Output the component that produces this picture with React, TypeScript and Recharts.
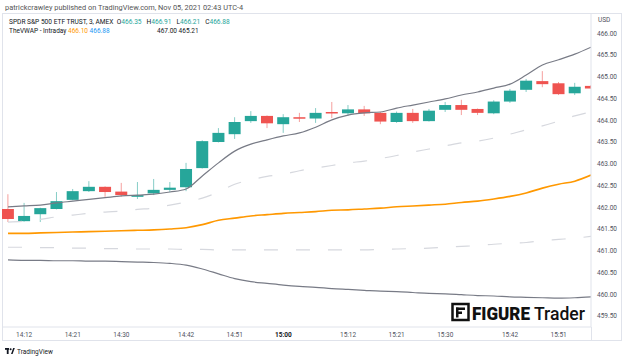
import React from 'react';
import { ComposedChart, Bar, Line, XAxis, YAxis } from 'recharts';

// 3-minute bars, SPY, Nov 05 2021
const times = [
  '14:09', '14:12', '14:15', '14:18', '14:21', '14:24', '14:27', '14:30', '14:33', '14:36',
  '14:39', '14:42', '14:45', '14:48', '14:51', '14:54', '14:57', '15:00', '15:03', '15:06',
  '15:09', '15:12', '15:15', '15:18', '15:21', '15:24', '15:27', '15:30', '15:33', '15:36',
  '15:39', '15:42', '15:45', '15:48', '15:51', '15:54', '15:57',
];
const opens = [
  461.96, 461.68, 461.84, 461.96, 462.17, 462.37, 462.47, 462.36, 462.24, 462.32,
  462.40, 462.46, 462.90, 463.50, 463.68, 463.98, 464.10, 463.91, 464.07, 464.04,
  464.19, 464.16, 464.25, 464.17, 463.96, 464.17, 463.98, 464.24, 464.35, 464.26,
  464.16, 464.43, 464.70, 464.90, 464.85, 464.62, 464.79,
];
const highs = [
  462.30, 462.10, 461.99, 462.35, 462.42, 462.60, 462.48, 462.56, 462.58, 462.65,
  462.58, 463.02, 463.54, 463.82, 464.07, 464.21, 464.11, 464.14, 464.17, 464.28,
  464.42, 464.35, 464.33, 464.19, 464.20, 464.26, 464.26, 464.42, 464.47, 464.27,
  464.46, 464.72, 464.95, 465.13, 464.88, 464.86, 464.81,
];
const lows = [
  461.66, 461.67, 461.66, 461.95, 462.16, 462.35, 462.24, 462.24, 462.19, 462.28,
  462.35, 462.37, 462.89, 463.49, 463.57, 463.94, 463.82, 463.71, 463.96, 463.94,
  464.05, 464.10, 464.10, 463.91, 463.94, 463.94, 463.97, 464.19, 464.12, 464.12,
  464.14, 464.40, 464.65, 464.76, 464.58, 464.58, 464.73,
];
const closes = [
  461.73, 461.80, 461.98, 462.14, 462.37, 462.47, 462.35, 462.28, 462.28, 462.40,
  462.45, 462.88, 463.52, 463.71, 463.96, 464.10, 463.93, 464.07, 464.04, 464.17,
  464.16, 464.25, 464.16, 463.97, 464.17, 463.98, 464.22, 464.35, 464.24, 464.17,
  464.43, 464.68, 464.91, 464.83, 464.60, 464.77, 464.73,
];

// TheVWAP - Intraday and its bands
const vwap = [
  461.40, 461.40, 461.41, 461.42, 461.43, 461.44, 461.45, 461.46, 461.47, 461.48,
  461.50, 461.53, 461.60, 461.70, 461.75, 461.80, 461.83, 461.86, 461.88, 461.90,
  461.93, 461.94, 461.96, 461.98, 462.01, 462.03, 462.05, 462.07, 462.11, 462.14,
  462.19, 462.25, 462.33, 462.44, 462.53, 462.60, 462.74,
];
const upperBand = [
  462.01, 462.03, 462.05, 462.10, 462.14, 462.18, 462.22, 462.26, 462.28, 462.30,
  462.35, 462.42, 462.72, 463.02, 463.29, 463.45, 463.55, 463.64, 463.71, 463.84,
  464.01, 464.12, 464.17, 464.19, 464.28, 464.35, 464.42, 464.49, 464.58, 464.65,
  464.74, 464.83, 465.04, 465.27, 465.39, 465.52, 465.68,
];
const upperMid = [
  461.66, 461.68, 461.72, 461.78, 461.82, 461.86, 461.89, 461.91, 461.95, 461.98,
  462.05, 462.12, 462.21, 462.35, 462.53, 462.63, 462.71, 462.76, 462.84, 462.90,
  462.96, 463.02, 463.06, 463.12, 463.19, 463.27, 463.34, 463.41, 463.48, 463.52,
  463.59, 463.68, 463.78, 463.87, 463.98, 464.10, 464.19,
];
const lowerMid = [
  461.08, 461.08, 461.07, 461.07, 461.06, 461.06, 461.05, 461.05, 461.04, 461.04,
  461.04, 461.03, 461.03, 461.02, 461.02, 461.02, 461.02, 461.02, 461.02, 461.02,
  461.02, 461.02, 461.02, 461.03, 461.04, 461.05, 461.06, 461.08, 461.10, 461.12,
  461.15, 461.17, 461.19, 461.23, 461.26, 461.29, 461.33,
];
const lowerBand = [
  460.79, 460.78, 460.78, 460.77, 460.77, 460.76, 460.76, 460.75, 460.74, 460.73,
  460.71, 460.67, 460.58, 460.47, 460.36, 460.29, 460.25, 460.21, 460.18, 460.16,
  460.13, 460.11, 460.09, 460.07, 460.06, 460.04, 460.02, 460.01, 459.99, 459.97,
  459.96, 459.94, 459.93, 459.92, 459.91, 459.92, 459.94,
];

const timeTicks = ['14:12', '14:21', '14:30', '14:42', '14:51', '15:00', '15:12', '15:21', '15:30', '15:42', '15:51'];
const priceTicks = [459.5, 460, 460.5, 461, 461.5, 462, 462.5, 463, 463.5, 464, 464.5, 465, 465.5, 466];

const UP = '#26a69a';
const DOWN = '#ef5350';
const FONT = 'Roboto, "Liberation Sans", sans-serif';

const data = times.map((t, i) => ({
  i,
  t,
  open: opens[i],
  high: highs[i],
  low: lows[i],
  close: closes[i],
  range: [lows[i], highs[i]],
  vwap: vwap[i],
  ub: upperBand[i],
  um: upperMid[i],
  lm: lowerMid[i],
  lb: lowerBand[i],
}));

const Candle = (props: any) => {
  const { x, y, width, height, payload } = props;
  const { open, high, low, close } = payload;
  const span = high - low || 1;
  const py = (v: number) => y + ((high - v) / span) * height;
  const color = close >= open ? UP : DOWN;
  const cx = x + width / 2;
  const top = py(Math.max(open, close));
  const bot = py(Math.min(open, close));
  return (
    <g>
      <line x1={cx} x2={cx} y1={y} y2={y + height} stroke={color} strokeWidth={1} opacity={0.55} />
      <rect x={x} y={top} width={width} height={Math.max(bot - top, 1.5)} fill={color} />
    </g>
  );
};

const TimeTick = (props: any) => {
  const { x, payload } = props;
  const label = times[payload.value];
  const bold = label === '15:00';
  return (
    <text x={x} y={336.5} textAnchor="middle" fontSize={6.5} fontFamily={FONT}
      fontWeight={bold ? 700 : 400} fill={bold ? '#131722' : '#50535e'}>
      {label}
    </text>
  );
};

const PriceTick = (props: any) => {
  const { y, payload } = props;
  return (
    <text x={597} y={y + 2.3} textAnchor="start" fontSize={6.5} fontFamily={FONT} fill="#50535e">
      {payload.value.toFixed(2)}
    </text>
  );
};

export default function App() {
  const tickIdx = timeTicks.map(l => times.indexOf(l));
  return (
    <div style={{ position: 'absolute', left: 0, top: 0, width: 624, height: 360, background: '#fff', fontFamily: FONT, overflow: 'hidden' }}>
      <div style={{ position: 'absolute', left: 5, top: 3, fontSize: 7.4, color: '#555', whiteSpace: 'nowrap' }}>
        patrickcrawley published on TradingView.com, Nov 05, 2021 02:43 UTC-4
      </div>
      <div style={{ position: 'absolute', left: 2, top: 13, width: 620, height: 328, border: '1px solid #e0e3eb', boxSizing: 'border-box' }} />
      <div style={{ position: 'absolute', left: 591, top: 327, width: 1, height: 14, background: '#e0e3eb' }} />

      <ComposedChart width={622} height={341} data={data} margin={{ top: 14, right: 0, bottom: 0, left: 2 }}
        style={{ position: 'absolute', left: 0, top: 0 }}>
        <XAxis dataKey="i" type="number" domain={[-0.37, 36]} allowDataOverflow ticks={tickIdx} interval={0}
          height={14} axisLine={{ stroke: '#e0e3eb' }} tickLine={false} tick={<TimeTick />} />
        <YAxis orientation="right" type="number" domain={[459.247, 466.443]} allowDataOverflow ticks={priceTicks}
          interval={0} width={31} axisLine={{ stroke: '#e0e3eb' }} tickLine={false} tick={<PriceTick />} />
        <Bar dataKey="range" barSize={12} shape={<Candle />} isAnimationActive={false} />
        <Line dataKey="lb" type="monotone" stroke="#787b86" strokeWidth={1.2} dot={false} isAnimationActive={false} />
        <Line dataKey="lm" type="monotone" stroke="#d6d8de" strokeWidth={1.2} strokeDasharray="14 18" dot={false} isAnimationActive={false} />
        <Line dataKey="vwap" type="monotone" stroke="#ff9800" strokeWidth={1.6} dot={false} isAnimationActive={false} />
        <Line dataKey="um" type="monotone" stroke="#d6d8de" strokeWidth={1.2} strokeDasharray="14 18" dot={false} isAnimationActive={false} />
        <Line dataKey="ub" type="monotone" stroke="#787b86" strokeWidth={1.2} dot={false} isAnimationActive={false} />
      </ComposedChart>

      <div style={{ position: 'absolute', left: 9, top: 18, fontSize: 6.6, color: '#131722', whiteSpace: 'nowrap' }}>
        SPDR S&amp;P 500 ETF TRUST, 3, AMEX&nbsp;
        O<span style={{ color: UP }}>466.35</span>&nbsp;&nbsp;
        H<span style={{ color: UP }}>466.91</span>&nbsp;&nbsp;
        L<span style={{ color: UP }}>466.21</span>&nbsp;&nbsp;
        C<span style={{ color: UP }}>466.88</span>
      </div>
      <div style={{ position: 'absolute', left: 9, top: 27, fontSize: 6.5, color: '#131722', whiteSpace: 'nowrap' }}>
        TheVWAP - Intraday&nbsp;
        <span style={{ color: '#ff9800' }}>466.10</span>&nbsp;
        <span style={{ color: '#2196f3' }}>466.88</span>
      </div>
      <div style={{ position: 'absolute', left: 157, top: 27, fontSize: 6.5, color: '#131722', whiteSpace: 'nowrap' }}>
        467.00&nbsp;465.21
      </div>
      <div style={{ position: 'absolute', left: 598, top: 16, fontSize: 6.5, color: '#50535e' }}>USD</div>

      {/* watermark */}
      <svg style={{ position: 'absolute', left: 450, top: 296 }} width={142} height={30}>
        <rect x={2.5} y={8} width={16} height={16} fill="none" stroke="#111" strokeWidth={2.5} />
        <rect x={6} y={11.5} width={9} height={2.5} fill="#111" />
        <rect x={6} y={15.5} width={6} height={2.5} fill="#111" />
        <rect x={6} y={11.5} width={2.5} height={10} fill="#111" />
        <text x={22} y={24} fontSize={19} fontWeight={900} fontFamily={FONT} fill="#111"
          textLength={58} lengthAdjust="spacingAndGlyphs">FIGURE</text>
        <text x={84} y={24} fontSize={19} fontWeight={500} fontFamily={FONT} fill="#111"
          textLength={51} lengthAdjust="spacingAndGlyphs">Trader</text>
      </svg>

      {/* TradingView logo */}
      <svg style={{ position: 'absolute', left: 5, top: 347 }} width={80} height={10}>
        <rect x={0} y={1} width={4} height={1.8} fill="#131722" />
        <rect x={1.8} y={1} width={1.8} height={6} fill="#131722" />
        <circle cx={5.6} cy={2.2} r={1} fill="#131722" />
        <path d="M6 7 L8.2 1 L9.8 1 L7.6 7 Z" fill="#131722" />
        <text x={12} y={7} fontSize={6.5} fontFamily={FONT} fill="#131722">TradingView</text>
      </svg>
    </div>
  );
}
